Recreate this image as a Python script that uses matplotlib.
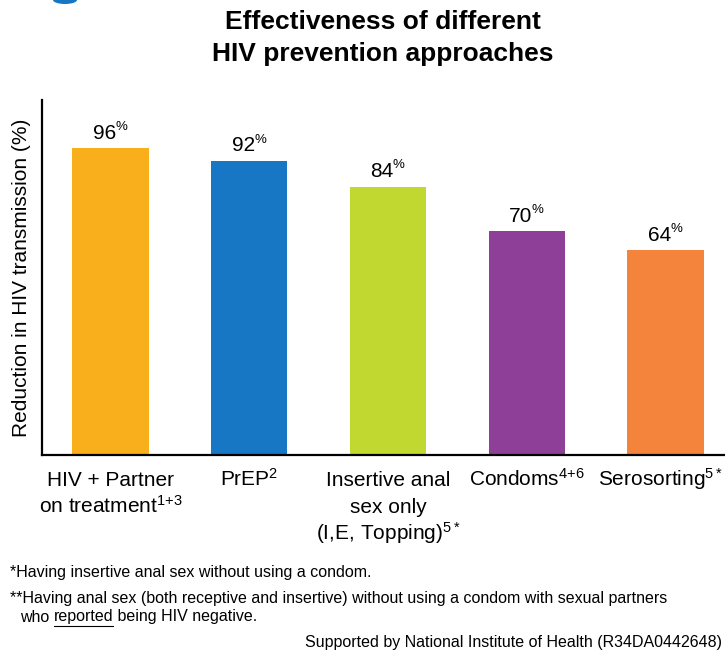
import matplotlib
matplotlib.use("Agg")
import matplotlib.pyplot as plt
from matplotlib.patches import Ellipse

plt.rcParams["font.family"] = ["Liberation Sans", "DejaVu Sans"]
plt.rcParams["mathtext.fontset"] = "custom"
plt.rcParams["mathtext.rm"] = "Liberation Sans"
plt.rcParams["mathtext.it"] = "Liberation Sans"
plt.rcParams["mathtext.bf"] = "Liberation Sans:bold"
plt.rcParams["mathtext.default"] = "regular"

# data
categories = [
    "HIV + Partner\non treatment$^{1{+}3}$",
    "PrEP$^{2}$",
    "Insertive anal\nsex only\n(I,E, Topping)$^{5*}$",
    "Condoms$^{4{+}6}$",
    "Serosorting$^{5**}$",
]
values = [96, 92, 84, 70, 64]
colors = ["#F9AE1B", "#1877C4", "#C1D830", "#8E3F97", "#F4833B"]

fig = plt.figure(figsize=(7.25, 6.51), dpi=100)
ax = fig.add_axes([0.058, 0.301, 0.942, 0.545])

x = range(len(values))
ax.bar(x, values, width=0.55, color=colors)

for i, v in enumerate(values):
    ax.annotate(str(v), xy=(i, v), xytext=(4, 4), textcoords="offset points",
                ha="right", va="bottom", fontsize=15)
    ax.annotate("%", xy=(i, v), xytext=(3.5, 11), textcoords="offset points",
                ha="left", va="bottom", fontsize=9.5)

ax.set_xlim(-0.494, 4.43)
ax.set_ylim(0, 111)
ax.set_xticks(list(x))
ax.set_xticklabels([])
ax.tick_params(axis="x", length=0)
# category labels, one baseline-aligned line at a time
for i, lab in enumerate(categories):
    for k, line in enumerate(lab.split("\n")):
        ax.annotate(line, xy=(i, 0), xycoords=("data", "axes fraction"),
                    xytext=(0, -22.5 - 19.4 * k), textcoords="offset points",
                    ha="center", va="baseline", fontsize=15, annotation_clip=False)
ax.set_yticks([])
ax.set_ylabel("Reduction in HIV transmission (%)", fontsize=15, labelpad=8)
for s in ["top", "right"]:
    ax.spines[s].set_visible(False)
for s in ["left", "bottom"]:
    ax.spines[s].set_linewidth(1.6)

fig.text(0.528, 1 - 38 / 651, "Effectiveness of different\nHIV prevention approaches",
         ha="center", va="center", fontsize=19, fontweight="bold", linespacing=1.38)

# little logo arc peeking in at the top
fig.patches.append(Ellipse((65 / 725, 1.0), 24 / 725, 8 / 651, transform=fig.transFigure,
                           facecolor="#1877C4", edgecolor="none"))

fs = 11.5
fig.text(10 / 725, 1 - 573 / 651, "*Having insertive anal sex without using a condom.",
         fontsize=fs, va="center")
fig.text(10 / 725, 1 - 598 / 651,
         "**Having anal sex (both receptive and insertive) without using a condom with sexual partners",
         fontsize=fs, va="center")

# "who reported being HIV negative." with the word reported underlined
fig.canvas.draw()
r = fig.canvas.get_renderer()
yline = 1 - 617 / 651
t1 = fig.text(20 / 725, yline, "who ", fontsize=fs, va="center")
w1 = t1.get_window_extent(r)
t2 = fig.text(w1.x1 / 725, yline, "reported", fontsize=fs, va="center")
w2 = t2.get_window_extent(r)
fig.text(w2.x1 / 725, yline, " being HIV negative.", fontsize=fs, va="center")
fig.add_artist(plt.Line2D([w2.x0 / 725, w2.x1 / 725], [yline - 8.5 / 651, yline - 8.5 / 651],
                          transform=fig.transFigure, color="black", lw=0.8))

fig.text(722 / 725, 1 - 643 / 651, "Supported by National Institute of Health (R34DA0442648)",
         fontsize=fs, ha="right", va="center")

fig.savefig("out.png", dpi=100)
